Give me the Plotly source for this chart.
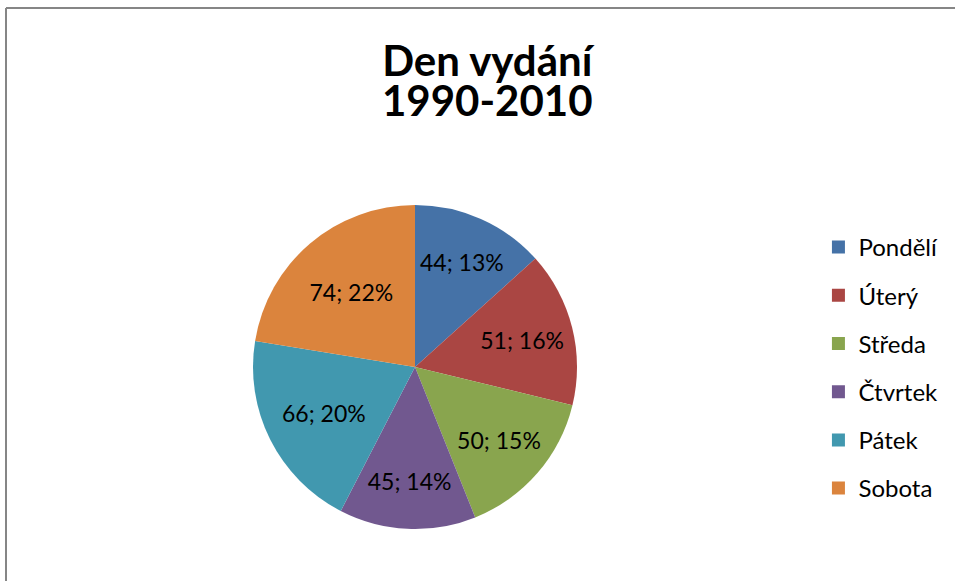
import plotly.graph_objects as go

days = ["Pondělí", "Úterý", "Středa", "Čtvrtek", "Pátek", "Sobota"]
counts = [44, 51, 50, 45, 66, 74]
pct_labels = ["13%", "16%", "15%", "14%", "20%", "22%"]
colors = ["#4572A7", "#AA4643", "#89A54E", "#71588F", "#4198AF", "#DB843D"]
title_lines = ["Den vydání", "1990-2010"]

W, H = 955, 581
FONT = "Lato"

fig = go.Figure()
fig.add_trace(go.Pie(
    labels=days, values=counts, text=pct_labels,
    texttemplate="%{value}; %{text}", textposition="inside",
    insidetextorientation="horizontal",
    textfont=dict(family=FONT, size=23, color="#000000"),
    marker=dict(colors=colors, line=dict(width=0)),
    sort=False, direction="clockwise", rotation=0,
    showlegend=False, hoverinfo="label+value+percent",
    domain=dict(x=[(415 - 162) / W, (415 + 162) / W],
                y=[(H - 367 - 162) / H, (H - 367 + 162) / H]),
))

# legend entries (square swatches, Excel-like spacing)
for i, (d, c) in enumerate(zip(days, colors)):
    fig.add_trace(go.Scatter(
        x=[None], y=[None], mode="markers", name=d,
        marker=dict(symbol="square", size=13, color=c),
        legendgroup=f"g{i}", showlegend=True,
    ))

title_html = "<br>".join(
    f"<span style='font-size:42px'><b>{t}</b></span>" for t in title_lines
)

fig.update_layout(
    width=W, height=H,
    margin=dict(l=0, r=0, t=0, b=0),
    paper_bgcolor="white", plot_bgcolor="white",
    xaxis=dict(visible=False), yaxis=dict(visible=False),
    font=dict(family=FONT, color="#000000"),
    legend=dict(
        x=0.857, y=1 - 368 / H, xanchor="left", yanchor="middle",
        font=dict(family=FONT, size=24, color="#000000"),
        tracegroupgap=14, itemclick=False, bgcolor="rgba(0,0,0,0)",
    ),
    annotations=[
        dict(text=title_html, x=488 / W, y=1 - 80 / H,
             xref="paper", yref="paper", xanchor="center", yanchor="middle",
             showarrow=False, align="center",
             font=dict(family=FONT, size=31, color="#000000")),
    ],
    shapes=[
        dict(type="line", xref="paper", yref="paper",
             x0=6 / W, x1=1, y0=1 - 8 / H, y1=1 - 8 / H,
             line=dict(color="#868686", width=2)),
        dict(type="line", xref="paper", yref="paper",
             x0=6 / W, x1=6 / W, y0=0, y1=1 - 8 / H,
             line=dict(color="#868686", width=2)),
    ],
)

fig.write_html("out.html", config={"displayModeBar": False},
               post_script="document.body.style.margin='0';")
